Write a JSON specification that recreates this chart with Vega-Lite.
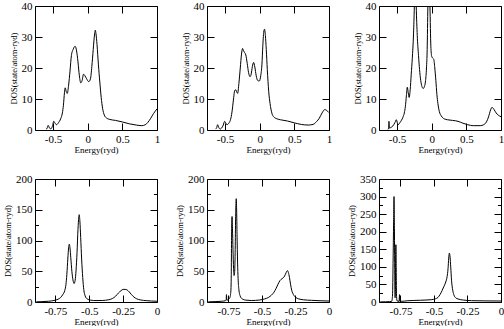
{
"$schema":"https://vega.github.io/schema/vega-lite/v6.json",
"padding":{"left":3,"top":0,"right":0,"bottom":0},
"bounds":"flush",
"columns":3,
"spacing":{"row":49,"column":50},
"config":{
 "view":{"stroke":null},
 "font":"Liberation Serif",
 "axis":{"grid":false,"domainColor":"#000","domainWidth":1,"tickColor":"#000","tickWidth":1,"tickSize":-7,"labelPadding":10,"labelFont":"Liberation Serif","labelFontSize":11,"labelColor":"#000","labelFlush":false,"labelOverlap":false,"titleFont":"Liberation Serif","titleFontSize":9,"titleFontWeight":"normal","titleColor":"#000","titlePadding":3},
 "axisX":{"titlePadding":1},
 "axisY":{"titleFontSize":8.5}
},
"concat":[
{
"width":122,"height":124,
"data":{"values":[{"e":-0.6,"d":0.2},{"e":-0.585,"d":0.6},{"e":-0.57,"d":1.5},{"e":-0.55,"d":0.6},{"e":-0.53,"d":0.4},{"e":-0.505,"d":1.5},{"e":-0.49,"d":2.8},{"e":-0.47,"d":2.2},{"e":-0.45,"d":1.7},{"e":-0.42,"d":2.4},{"e":-0.39,"d":3.6},{"e":-0.365,"d":5.5},{"e":-0.35,"d":8},{"e":-0.335,"d":12},{"e":-0.325,"d":13.6},{"e":-0.31,"d":12.5},{"e":-0.295,"d":11.8},{"e":-0.275,"d":14.5},{"e":-0.255,"d":19},{"e":-0.235,"d":24},{"e":-0.21,"d":26},{"e":-0.18,"d":27},{"e":-0.16,"d":25.5},{"e":-0.14,"d":22},{"e":-0.12,"d":17.5},{"e":-0.1,"d":15.2},{"e":-0.08,"d":16},{"e":-0.06,"d":18},{"e":-0.04,"d":17.5},{"e":-0.015,"d":16.5},{"e":0.015,"d":15.6},{"e":0.04,"d":16.5},{"e":0.06,"d":20.5},{"e":0.08,"d":26},{"e":0.1,"d":31},{"e":0.11,"d":32.2},{"e":0.12,"d":31},{"e":0.135,"d":27.5},{"e":0.155,"d":21},{"e":0.175,"d":15.5},{"e":0.195,"d":10.5},{"e":0.215,"d":7},{"e":0.24,"d":4.8},{"e":0.27,"d":3.9},{"e":0.32,"d":3.4},{"e":0.4,"d":3.1},{"e":0.5,"d":2.6},{"e":0.6,"d":2},{"e":0.7,"d":1.6},{"e":0.78,"d":1.4},{"e":0.83,"d":1.7},{"e":0.87,"d":2.5},{"e":0.91,"d":3.8},{"e":0.95,"d":5.3},{"e":1.0,"d":6.8}]},
"layer":[
 {"mark":{"type":"line","color":"black","strokeWidth":1,"clip":true,"interpolate":"monotone"},
  "encoding":{
   "x":{"field":"e","type":"quantitative","scale":{"domain":[-0.76,1],"nice":false,"zero":false},"axis":{"orient":"bottom","values":[-0.5,0,0.5,1],"title":"Energy(ryd)","labelExpr":"datum.value + ''"}},
   "y":{"field":"d","type":"quantitative","scale":{"domain":[0,40],"nice":false},"axis":{"orient":"left","values":[0,10,20,30,40],"title":"DOS(state/atom-ryd)"}}}},
 {"mark":{"type":"line","opacity":0},
  "encoding":{
   "x":{"field":"e","type":"quantitative","scale":{"domain":[-0.76,1],"nice":false,"zero":false},"axis":{"orient":"top","values":[-0.5,0,0.5,1],"labels":false,"title":null}},
   "y":{"field":"d","type":"quantitative","scale":{"domain":[0,40],"nice":false},"axis":{"orient":"right","values":[0,10,20,30,40],"labels":false,"title":null}}}}
],
"resolve":{"axis":{"x":"independent","y":"independent"}}
},
{
"width":122,"height":124,
"data":{"values":[{"e":-0.635,"d":0.3},{"e":-0.62,"d":0.8},{"e":-0.607,"d":1.7},{"e":-0.59,"d":0.8},{"e":-0.57,"d":0.3},{"e":-0.55,"d":0.6},{"e":-0.525,"d":1.6},{"e":-0.506,"d":2.8},{"e":-0.49,"d":2.3},{"e":-0.472,"d":1.7},{"e":-0.445,"d":2.2},{"e":-0.424,"d":3.1},{"e":-0.405,"d":5},{"e":-0.39,"d":7.5},{"e":-0.375,"d":10.5},{"e":-0.362,"d":12.6},{"e":-0.345,"d":13},{"e":-0.33,"d":12.2},{"e":-0.318,"d":11.8},{"e":-0.3,"d":15},{"e":-0.28,"d":20},{"e":-0.262,"d":24.5},{"e":-0.247,"d":26.3},{"e":-0.232,"d":25.5},{"e":-0.218,"d":25},{"e":-0.2,"d":24.2},{"e":-0.18,"d":21.5},{"e":-0.16,"d":18.5},{"e":-0.14,"d":17.2},{"e":-0.125,"d":17.8},{"e":-0.105,"d":20.5},{"e":-0.088,"d":21.8},{"e":-0.07,"d":20.3},{"e":-0.05,"d":17.5},{"e":-0.03,"d":16},{"e":-0.005,"d":15.8},{"e":0.015,"d":17.5},{"e":0.032,"d":21},{"e":0.045,"d":27},{"e":0.058,"d":31.5},{"e":0.07,"d":32.5},{"e":0.082,"d":30.5},{"e":0.095,"d":26},{"e":0.11,"d":19.5},{"e":0.13,"d":12.5},{"e":0.15,"d":8.5},{"e":0.175,"d":5.5},{"e":0.2,"d":4.3},{"e":0.25,"d":3.6},{"e":0.3,"d":3.3},{"e":0.4,"d":2.9},{"e":0.5,"d":2.3},{"e":0.6,"d":1.8},{"e":0.7,"d":1.6},{"e":0.77,"d":1.8},{"e":0.82,"d":2.7},{"e":0.86,"d":3.8},{"e":0.9,"d":5.5},{"e":0.94,"d":6.6},{"e":0.96,"d":6.4},{"e":1.0,"d":5.6}]},
"layer":[
 {"mark":{"type":"line","color":"black","strokeWidth":1,"clip":true,"interpolate":"monotone"},
  "encoding":{
   "x":{"field":"e","type":"quantitative","scale":{"domain":[-0.76,1],"nice":false,"zero":false},"axis":{"orient":"bottom","values":[-0.5,0,0.5,1],"title":"Energy(ryd)","labelExpr":"datum.value + ''"}},
   "y":{"field":"d","type":"quantitative","scale":{"domain":[0,40],"nice":false},"axis":{"orient":"left","values":[0,10,20,30,40],"title":"DOS(state/atom-ryd)"}}}},
 {"mark":{"type":"line","opacity":0},
  "encoding":{
   "x":{"field":"e","type":"quantitative","scale":{"domain":[-0.76,1],"nice":false,"zero":false},"axis":{"orient":"top","values":[-0.5,0,0.5,1],"labels":false,"title":null}},
   "y":{"field":"d","type":"quantitative","scale":{"domain":[0,40],"nice":false},"axis":{"orient":"right","values":[0,10,20,30,40],"labels":false,"title":null}}}}
],
"resolve":{"axis":{"x":"independent","y":"independent"}}
},
{
"width":122,"height":124,
"data":{"values":[{"e":-0.63,"d":0.2},{"e":-0.622,"d":0.6},{"e":-0.616,"d":2.8},{"e":-0.61,"d":0.6},{"e":-0.59,"d":0.8},{"e":-0.56,"d":1.3},{"e":-0.53,"d":2.4},{"e":-0.51,"d":3.3},{"e":-0.495,"d":2.3},{"e":-0.485,"d":1.7},{"e":-0.455,"d":2.5},{"e":-0.415,"d":4.1},{"e":-0.395,"d":5.5},{"e":-0.38,"d":7.5},{"e":-0.365,"d":11},{"e":-0.352,"d":13.8},{"e":-0.338,"d":12},{"e":-0.325,"d":10.5},{"e":-0.31,"d":13},{"e":-0.295,"d":18},{"e":-0.28,"d":23},{"e":-0.262,"d":31},{"e":-0.25,"d":40},{"e":-0.237,"d":55},{"e":-0.223,"d":40},{"e":-0.208,"d":30.5},{"e":-0.19,"d":24},{"e":-0.175,"d":19.5},{"e":-0.158,"d":16},{"e":-0.14,"d":14},{"e":-0.122,"d":13.4},{"e":-0.105,"d":14},{"e":-0.088,"d":16},{"e":-0.075,"d":20},{"e":-0.065,"d":26},{"e":-0.055,"d":40},{"e":-0.04,"d":54},{"e":-0.025,"d":40},{"e":-0.012,"d":27},{"e":0.0,"d":23.8},{"e":0.015,"d":23.2},{"e":0.03,"d":22.8},{"e":0.045,"d":20},{"e":0.06,"d":16},{"e":0.075,"d":11.5},{"e":0.09,"d":8.5},{"e":0.11,"d":6},{"e":0.14,"d":4.5},{"e":0.18,"d":3.6},{"e":0.23,"d":3.3},{"e":0.3,"d":3.1},{"e":0.38,"d":2.8},{"e":0.45,"d":2.2},{"e":0.52,"d":1.7},{"e":0.6,"d":1.4},{"e":0.7,"d":1.4},{"e":0.75,"d":1.7},{"e":0.79,"d":2.6},{"e":0.82,"d":4.2},{"e":0.85,"d":6.5},{"e":0.87,"d":7.3},{"e":0.9,"d":6.6},{"e":0.93,"d":5.5},{"e":0.96,"d":4.8},{"e":1.0,"d":4.3}]},
"layer":[
 {"mark":{"type":"line","color":"black","strokeWidth":1,"clip":true,"interpolate":"monotone"},
  "encoding":{
   "x":{"field":"e","type":"quantitative","scale":{"domain":[-0.76,1],"nice":false,"zero":false},"axis":{"orient":"bottom","values":[-0.5,0,0.5,1],"title":"Energy(ryd)","labelExpr":"datum.value + ''"}},
   "y":{"field":"d","type":"quantitative","scale":{"domain":[0,40],"nice":false},"axis":{"orient":"left","values":[0,10,20,30,40],"title":"DOS(state/atom-ryd)"}}}},
 {"mark":{"type":"line","opacity":0,"clip":true},
  "encoding":{
   "x":{"field":"e","type":"quantitative","scale":{"domain":[-0.76,1],"nice":false,"zero":false},"axis":{"orient":"top","values":[-0.5,0,0.5,1],"labels":false,"title":null}},
   "y":{"field":"d","type":"quantitative","scale":{"domain":[0,40],"nice":false},"axis":{"orient":"right","values":[0,10,20,30,40],"labels":false,"title":null}}}}
],
"resolve":{"axis":{"x":"independent","y":"independent"}}
},
{
"width":122,"height":123,
"data":{"values":[{"e":-0.89,"d":0.3},{"e":-0.85,"d":0.6},{"e":-0.8,"d":1.2},{"e":-0.76,"d":2.5},{"e":-0.73,"d":4.5},{"e":-0.71,"d":7.5},{"e":-0.695,"d":12},{"e":-0.68,"d":19},{"e":-0.672,"d":28},{"e":-0.665,"d":45},{"e":-0.658,"d":70},{"e":-0.652,"d":88},{"e":-0.647,"d":94},{"e":-0.642,"d":88},{"e":-0.636,"d":72},{"e":-0.628,"d":50},{"e":-0.62,"d":36},{"e":-0.612,"d":30},{"e":-0.604,"d":35},{"e":-0.597,"d":52},{"e":-0.59,"d":80},{"e":-0.583,"d":118},{"e":-0.577,"d":138},{"e":-0.574,"d":142},{"e":-0.569,"d":132},{"e":-0.563,"d":105},{"e":-0.556,"d":70},{"e":-0.548,"d":40},{"e":-0.54,"d":20},{"e":-0.53,"d":10},{"e":-0.515,"d":5},{"e":-0.49,"d":3},{"e":-0.45,"d":2.3},{"e":-0.4,"d":2.5},{"e":-0.36,"d":3.5},{"e":-0.33,"d":5.5},{"e":-0.305,"d":9.5},{"e":-0.285,"d":14.5},{"e":-0.265,"d":18.5},{"e":-0.25,"d":20.5},{"e":-0.235,"d":20.5},{"e":-0.22,"d":19.5},{"e":-0.205,"d":16.5},{"e":-0.19,"d":12.5},{"e":-0.17,"d":8},{"e":-0.15,"d":5.2},{"e":-0.12,"d":3.3},{"e":-0.08,"d":2.2},{"e":-0.04,"d":1.6},{"e":0.0,"d":1.2}]},
"layer":[
 {"mark":{"type":"line","color":"black","strokeWidth":1,"clip":true,"interpolate":"monotone"},
  "encoding":{
   "x":{"field":"e","type":"quantitative","scale":{"domain":[-0.9,0],"nice":false,"zero":false},"axis":{"orient":"bottom","values":[-0.75,-0.5,-0.25,0],"title":"Energy(ryd)","labelExpr":"datum.value + ''"}},
   "y":{"field":"d","type":"quantitative","scale":{"domain":[0,200],"nice":false},"axis":{"orient":"left","values":[0,50,100,150,200],"title":"DOS(state/atom-ryd)"}}}},
 {"mark":{"type":"line","opacity":0},
  "encoding":{
   "x":{"field":"e","type":"quantitative","scale":{"domain":[-0.9,0],"nice":false,"zero":false},"axis":{"orient":"top","values":[-0.75,-0.5,-0.25,0],"labels":false,"title":null}},
   "y":{"field":"d","type":"quantitative","scale":{"domain":[0,200],"nice":false},"axis":{"orient":"right","values":[0,50,100,150,200],"labels":false,"title":null}}}},
 {"mark":{"type":"line","opacity":0},
  "encoding":{
   "x":{"field":"e","type":"quantitative","scale":{"domain":[-0.9,0],"nice":false,"zero":false},"axis":null},
   "y":{"field":"d","type":"quantitative","scale":{"domain":[0,200],"nice":false},"axis":{"orient":"left","values":[25,75,125,175],"labels":false,"title":null,"domain":false,"tickSize":-3.5}}}},
 {"mark":{"type":"line","opacity":0},
  "encoding":{
   "x":{"field":"e","type":"quantitative","scale":{"domain":[-0.9,0],"nice":false,"zero":false},"axis":null},
   "y":{"field":"d","type":"quantitative","scale":{"domain":[0,200],"nice":false},"axis":{"orient":"right","values":[25,75,125,175],"labels":false,"title":null,"domain":false,"tickSize":-3.5}}}}
],
"resolve":{"axis":{"x":"independent","y":"independent"}}
},
{
"width":122,"height":123,
"data":{"values":[{"e":-0.9,"d":0.3},{"e":-0.85,"d":0.6},{"e":-0.8,"d":1.2},{"e":-0.775,"d":2},{"e":-0.767,"d":3},{"e":-0.765,"d":12},{"e":-0.762,"d":3},{"e":-0.748,"d":4.5},{"e":-0.738,"d":8},{"e":-0.732,"d":18},{"e":-0.729,"d":45},{"e":-0.727,"d":100},{"e":-0.725,"d":132},{"e":-0.723,"d":139},{"e":-0.72,"d":120},{"e":-0.716,"d":85},{"e":-0.712,"d":55},{"e":-0.708,"d":43},{"e":-0.704,"d":48},{"e":-0.7,"d":80},{"e":-0.697,"d":130},{"e":-0.694,"d":160},{"e":-0.692,"d":168},{"e":-0.689,"d":150},{"e":-0.686,"d":110},{"e":-0.682,"d":65},{"e":-0.678,"d":38},{"e":-0.672,"d":20},{"e":-0.663,"d":10},{"e":-0.65,"d":5.5},{"e":-0.62,"d":3},{"e":-0.58,"d":2.4},{"e":-0.52,"d":3.2},{"e":-0.48,"d":5},{"e":-0.45,"d":7.6},{"e":-0.43,"d":11},{"e":-0.41,"d":16},{"e":-0.395,"d":22},{"e":-0.38,"d":29},{"e":-0.365,"d":35},{"e":-0.35,"d":38},{"e":-0.338,"d":40},{"e":-0.325,"d":45},{"e":-0.315,"d":50},{"e":-0.31,"d":51},{"e":-0.303,"d":48},{"e":-0.295,"d":40},{"e":-0.287,"d":29},{"e":-0.278,"d":19},{"e":-0.265,"d":12},{"e":-0.248,"d":7.5},{"e":-0.228,"d":5.2},{"e":-0.19,"d":3.6},{"e":-0.13,"d":2.7},{"e":-0.06,"d":2},{"e":0.0,"d":1.6}]},
"layer":[
 {"mark":{"type":"line","color":"black","strokeWidth":1,"clip":true,"interpolate":"monotone"},
  "encoding":{
   "x":{"field":"e","type":"quantitative","scale":{"domain":[-0.91,0],"nice":false,"zero":false},"axis":{"orient":"bottom","values":[-0.75,-0.5,-0.25,0],"title":"Energy(ryd)","labelExpr":"datum.value + ''"}},
   "y":{"field":"d","type":"quantitative","scale":{"domain":[0,200],"nice":false},"axis":{"orient":"left","values":[0,50,100,150,200],"title":"DOS(state/atom-ryd)"}}}},
 {"mark":{"type":"line","opacity":0},
  "encoding":{
   "x":{"field":"e","type":"quantitative","scale":{"domain":[-0.91,0],"nice":false,"zero":false},"axis":{"orient":"top","values":[-0.75,-0.5,-0.25,0],"labels":false,"title":null}},
   "y":{"field":"d","type":"quantitative","scale":{"domain":[0,200],"nice":false},"axis":{"orient":"right","values":[0,50,100,150,200],"labels":false,"title":null}}}},
 {"mark":{"type":"line","opacity":0},
  "encoding":{
   "x":{"field":"e","type":"quantitative","scale":{"domain":[-0.91,0],"nice":false,"zero":false},"axis":null},
   "y":{"field":"d","type":"quantitative","scale":{"domain":[0,200],"nice":false},"axis":{"orient":"left","values":[25,75,125,175],"labels":false,"title":null,"domain":false,"tickSize":-3.5}}}},
 {"mark":{"type":"line","opacity":0},
  "encoding":{
   "x":{"field":"e","type":"quantitative","scale":{"domain":[-0.91,0],"nice":false,"zero":false},"axis":null},
   "y":{"field":"d","type":"quantitative","scale":{"domain":[0,200],"nice":false},"axis":{"orient":"right","values":[25,75,125,175],"labels":false,"title":null,"domain":false,"tickSize":-3.5}}}}
],
"resolve":{"axis":{"x":"independent","y":"independent"}}
},
{
"width":122,"height":123,
"data":{"values":[{"e":-0.9,"d":0.3},{"e":-0.86,"d":0.6},{"e":-0.83,"d":1},{"e":-0.815,"d":2},{"e":-0.809,"d":20},{"e":-0.805,"d":110},{"e":-0.801,"d":230},{"e":-0.798,"d":300},{"e":-0.795,"d":210},{"e":-0.792,"d":60},{"e":-0.79,"d":12},{"e":-0.788,"d":30},{"e":-0.786,"d":120},{"e":-0.784,"d":163},{"e":-0.782,"d":110},{"e":-0.779,"d":15},{"e":-0.775,"d":3},{"e":-0.76,"d":2},{"e":-0.757,"d":21},{"e":-0.754,"d":2},{"e":-0.74,"d":2},{"e":-0.7,"d":3.5},{"e":-0.6,"d":5},{"e":-0.52,"d":6.6},{"e":-0.49,"d":9},{"e":-0.47,"d":13},{"e":-0.455,"d":21},{"e":-0.44,"d":32},{"e":-0.425,"d":45},{"e":-0.412,"d":57},{"e":-0.402,"d":72},{"e":-0.395,"d":95},{"e":-0.39,"d":125},{"e":-0.385,"d":139},{"e":-0.38,"d":128},{"e":-0.375,"d":100},{"e":-0.369,"d":62},{"e":-0.362,"d":38},{"e":-0.352,"d":21},{"e":-0.338,"d":12},{"e":-0.32,"d":8.5},{"e":-0.28,"d":5.5},{"e":-0.22,"d":3.8},{"e":-0.12,"d":3.2},{"e":0.0,"d":2.8}]},
"layer":[
 {"mark":{"type":"line","color":"black","strokeWidth":1,"clip":true,"interpolate":"monotone"},
  "encoding":{
   "x":{"field":"e","type":"quantitative","scale":{"domain":[-0.91,0],"nice":false,"zero":false},"axis":{"orient":"bottom","values":[-0.75,-0.5,-0.25,0],"title":"Energy(ryd)","labelExpr":"datum.value + ''"}},
   "y":{"field":"d","type":"quantitative","scale":{"domain":[0,350],"nice":false},"axis":{"orient":"left","values":[0,50,100,150,200,250,300,350],"title":"DOS(state/atom-ryd)"}}}},
 {"mark":{"type":"line","opacity":0},
  "encoding":{
   "x":{"field":"e","type":"quantitative","scale":{"domain":[-0.91,0],"nice":false,"zero":false},"axis":{"orient":"top","values":[-0.75,-0.5,-0.25,0],"labels":false,"title":null}},
   "y":{"field":"d","type":"quantitative","scale":{"domain":[0,350],"nice":false},"axis":{"orient":"right","values":[0,50,100,150,200,250,300,350],"labels":false,"title":null}}}},
 {"mark":{"type":"line","opacity":0},
  "encoding":{
   "x":{"field":"e","type":"quantitative","scale":{"domain":[-0.91,0],"nice":false,"zero":false},"axis":null},
   "y":{"field":"d","type":"quantitative","scale":{"domain":[0,350],"nice":false},"axis":{"orient":"left","values":[25,75,125,175,225,275,325],"labels":false,"title":null,"domain":false,"tickSize":-3.5}}}},
 {"mark":{"type":"line","opacity":0},
  "encoding":{
   "x":{"field":"e","type":"quantitative","scale":{"domain":[-0.91,0],"nice":false,"zero":false},"axis":null},
   "y":{"field":"d","type":"quantitative","scale":{"domain":[0,350],"nice":false},"axis":{"orient":"right","values":[25,75,125,175,225,275,325],"labels":false,"title":null,"domain":false,"tickSize":-3.5}}}}
],
"resolve":{"axis":{"x":"independent","y":"independent"}}
}
]
}
